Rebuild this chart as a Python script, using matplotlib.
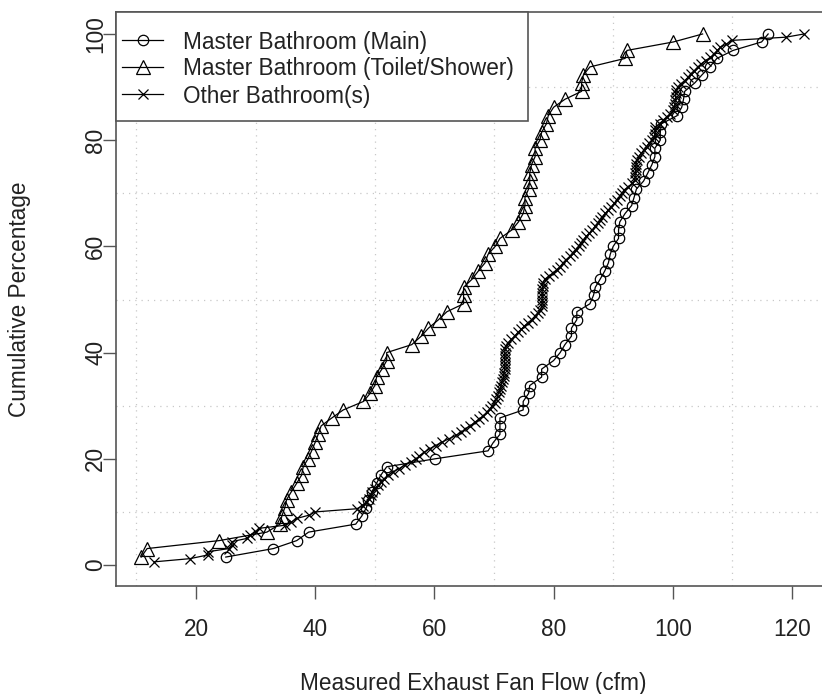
import matplotlib
matplotlib.use("Agg")
import matplotlib.pyplot as plt
from matplotlib.lines import Line2D
from matplotlib.patches import Rectangle

plt.rcParams['font.family'] = ['Liberation Sans', 'DejaVu Sans']

# ---- measured exhaust fan flows (cfm), sorted, with cumulative percentage ----
master_pct = [1.5, 3.1, 4.6, 6.2, 7.7, 9.2, 10.8, 12.3, 13.8, 15.4,
              16.9, 18.5, 20.0, 21.5, 23.1, 24.6, 26.2, 27.7, 29.2, 30.8,
              32.3, 33.8, 35.4, 36.9, 38.5, 40.0, 41.5, 43.1, 44.6, 46.2,
              47.7, 49.2, 50.8, 52.3, 53.8, 55.4, 56.9, 58.5, 60.0, 61.5,
              63.1, 64.6, 66.2, 67.7, 69.2, 70.8, 72.3, 73.8, 75.4, 76.9,
              78.5, 80.0, 81.5, 83.1, 84.6, 86.2, 87.7, 89.2, 90.8, 92.3,
              93.8, 95.4, 96.9, 98.5, 100.0]

main_flow = [25.0, 33.0, 36.9, 38.9, 46.8, 47.8, 48.6, 48.9, 49.5, 50.3,
             51.0, 52.0, 60.1, 69.0, 69.9, 71.0, 71.0, 71.0, 74.9, 74.9,
             75.8, 76.0, 78.0, 78.0, 80.0, 81.1, 81.9, 83.0, 83.0, 83.9,
             83.9, 86.1, 86.7, 87.0, 87.8, 88.6, 89.2, 89.5, 90.0, 90.9,
             90.9, 91.1, 92.0, 93.1, 93.5, 93.9, 95.1, 95.8, 96.5, 97.0,
             97.0, 97.9, 97.9, 98.1, 100.7, 101.5, 101.8, 102.0, 103.7, 104.9,
             106.2, 107.4, 110.1, 114.9, 116.0]

toilet_flow = [10.8, 11.8, 23.9, 31.9, 34.1, 34.4, 34.9, 35.2, 36.0, 36.9,
               37.7, 38.0, 38.8, 39.4, 40.0, 40.5, 41.0, 42.8, 44.7, 48.1,
               49.2, 50.0, 50.3, 51.2, 52.0, 52.0, 56.2, 57.8, 59.0, 60.7,
               62.1, 64.9, 64.9, 64.9, 66.3, 67.4, 68.5, 69.0, 70.2, 71.0,
               73.0, 74.1, 74.9, 75.2, 75.2, 75.8, 76.0, 76.0, 76.3, 76.9,
               76.9, 77.7, 78.0, 78.8, 79.1, 80.0, 81.9, 84.7, 84.7, 85.0,
               86.1, 92.0, 92.3, 100.1, 105.0]

other_pct = [0.6, 1.2, 1.9, 2.5, 3.1, 3.8, 4.4, 5.0, 5.6, 6.2,
             6.9, 7.5, 8.1, 8.8, 9.4, 10.0, 10.6, 11.2, 11.9, 12.5,
             13.1, 13.8, 14.4, 15.0, 15.6, 16.2, 16.9, 17.5, 18.1, 18.8,
             19.4, 20.0, 20.6, 21.2, 21.9, 22.5, 23.1, 23.8, 24.4, 25.0,
             25.6, 26.2, 26.9, 27.5, 28.1, 28.8, 29.4, 30.0, 30.6, 31.2,
             31.9, 32.5, 33.1, 33.8, 34.4, 35.0, 35.6, 36.2, 36.9, 37.5,
             38.1, 38.8, 39.4, 40.0, 40.6, 41.2, 41.9, 42.5, 43.1, 43.8,
             44.4, 45.0, 45.6, 46.2, 46.9, 47.5, 48.1, 48.8, 49.4, 50.0,
             50.6, 51.2, 51.9, 52.5, 53.1, 53.8, 54.4, 55.0, 55.6, 56.2,
             56.9, 57.5, 58.1, 58.8, 59.4, 60.0, 60.6, 61.2, 61.9, 62.5,
             63.1, 63.8, 64.4, 65.0, 65.6, 66.2, 66.9, 67.5, 68.1, 68.8,
             69.4, 70.0, 70.6, 71.2, 71.9, 72.5, 73.1, 73.8, 74.4, 75.0,
             75.6, 76.2, 76.9, 77.5, 78.1, 78.8, 79.4, 80.0, 80.6, 81.2,
             81.9, 82.5, 83.1, 83.8, 84.4, 85.0, 85.6, 86.2, 86.9, 87.5,
             88.1, 88.8, 89.4, 90.0, 90.6, 91.2, 91.9, 92.5, 93.1, 93.8,
             94.4, 95.0, 95.6, 96.2, 96.9, 97.5, 98.1, 98.8, 99.4, 100.0]

other_flow = [13.0, 19.0, 22.0, 22.0, 25.5, 26.0, 26.0, 28.5, 29.0, 30.0,
              30.5, 35.0, 36.0, 37.0, 39.0, 40.0, 47.0, 48.0, 48.6, 49.0,
              49.3, 49.6, 50.0, 50.5, 51.0, 51.5, 52.2, 53.0, 54.0, 55.0,
              56.0, 57.0, 57.5, 58.3, 59.2, 60.2, 61.2, 62.5, 63.6, 64.5,
              65.2, 66.0, 66.8, 67.5, 68.2, 68.8, 69.3, 69.7, 70.1, 70.4,
              70.6, 70.8, 71.0, 71.2, 71.3, 71.5, 71.6, 71.7, 71.8, 71.8,
              71.8, 71.8, 71.8, 71.8, 71.9, 72.0, 72.4, 72.9, 73.5, 74.0,
              74.6, 75.1, 75.7, 76.3, 76.9, 77.4, 77.8, 78.0, 78.1, 78.1,
              78.1, 78.1, 78.1, 78.2, 78.2, 78.5, 79.2, 79.9, 80.5, 81.1,
              81.6, 82.1, 82.7, 83.2, 83.7, 84.2, 84.6, 85.0, 85.5, 86.0,
              86.5, 87.0, 87.4, 87.8, 88.2, 88.7, 89.2, 89.7, 90.2, 90.6,
              91.1, 91.5, 91.8, 92.5, 93.2, 93.6, 93.7, 93.7, 93.8, 93.8,
              93.9, 94.0, 94.3, 94.7, 95.1, 95.6, 96.0, 96.5, 96.9, 97.0,
              97.0, 97.1, 97.8, 98.4, 99.0, 99.6, 100.0, 100.2, 100.4, 100.4,
              100.5, 100.5, 100.6, 100.8, 101.3, 102.0, 102.6, 103.0, 103.6, 104.2,
              104.8, 105.5, 106.3, 107.0, 107.5, 108.0, 109.0, 110.0, 119.0, 122.0]

series_labels = ["Master Bathroom (Main)",
                 "Master Bathroom (Toilet/Shower)",
                 "Other Bathroom(s)"]
x_ticks = [20, 40, 60, 80, 100, 120]
y_ticks = [0, 20, 40, 60, 80, 100]

# ---- figure / axes geometry in pixels ----
W, H = 822, 694
fig = plt.figure(figsize=(W / 100, H / 100), dpi=100)
fig.patch.set_facecolor('white')

AX_L, AX_T, AX_R, AX_B = 116, 12, 830, 586
ax = fig.add_axes([AX_L / W, 1 - AX_B / H, (AX_R - AX_L) / W, (AX_B - AX_T) / H])
ax.set_xlim(6.58, 126.38)
ax.set_ylim(-3.95, 104.14)

frame_col = '#555555'
text_col = '#222222'
fs = 16.3

for s in ax.spines.values():
    s.set_color(frame_col)
    s.set_linewidth(1.2)

ax.set_xticks(x_ticks)
ax.set_yticks(y_ticks)
ax.set_xticks(range(10, 130, 10), minor=True)
ax.set_yticks(range(0, 110, 10), minor=True)
ax.tick_params(which='major', direction='out', length=9.4, width=1.0,
               color=frame_col, labelsize=fs, labelcolor=text_col)
ax.tick_params(which='minor', length=0)
ax.tick_params(axis='x', which='major', pad=14)
ax.tick_params(axis='y', which='major', pad=-3)
for lab in ax.get_yticklabels():
    lab.set_rotation(90)
    lab.set_verticalalignment('center')

ax.grid(which='minor', color='#c8c8c8', linestyle=(0, (1, 4)), linewidth=0.9)
ax.grid(which='major', visible=False)
ax.set_axisbelow(True)

ax.set_xlabel("Measured Exhaust Fan Flow (cfm)", fontsize=fs, color=text_col, labelpad=22)
ax.set_ylabel("Cumulative Percentage", fontsize=fs, color=text_col, labelpad=38)

line_kw = dict(color='black', linewidth=0.9, markerfacecolor='none',
               markeredgecolor='black', markeredgewidth=0.9)
styles = [dict(marker='o', markersize=7.5),
          dict(marker='^', markersize=9.5),
          dict(marker='x', markersize=7.5)]

ax.plot(main_flow, master_pct, **line_kw, **styles[0])
ax.plot(toilet_flow, master_pct, **line_kw, **styles[1])
ax.plot(other_flow, other_pct, **line_kw, **styles[2])

# ---- legend box in the top-left corner ----
def fx(px):
    return px / W

def fy(py):
    return 1 - py / H

fig.add_artist(Rectangle((fx(116), fy(121)), fx(528) - fx(116), fy(12) - fy(121),
                         transform=fig.transFigure, facecolor='white',
                         edgecolor=frame_col, linewidth=1.2, zorder=5))
for row_py, lab, st in zip([40, 67, 94], series_labels, styles):
    fig.add_artist(Line2D([fx(122), fx(163)], [fy(row_py), fy(row_py)],
                          transform=fig.transFigure, zorder=6,
                          color='black', linewidth=0.9))
    fig.add_artist(Line2D([fx(142.5)], [fy(row_py)], transform=fig.transFigure,
                          zorder=6, linestyle='none', markerfacecolor='none',
                          markeredgecolor='black', markeredgewidth=0.9, **st))
    fig.text(fx(183), fy(row_py + 2), lab, fontsize=fs, color=text_col,
             va='center', ha='left', zorder=7)

fig.savefig("out.png", dpi=100, facecolor='white')
